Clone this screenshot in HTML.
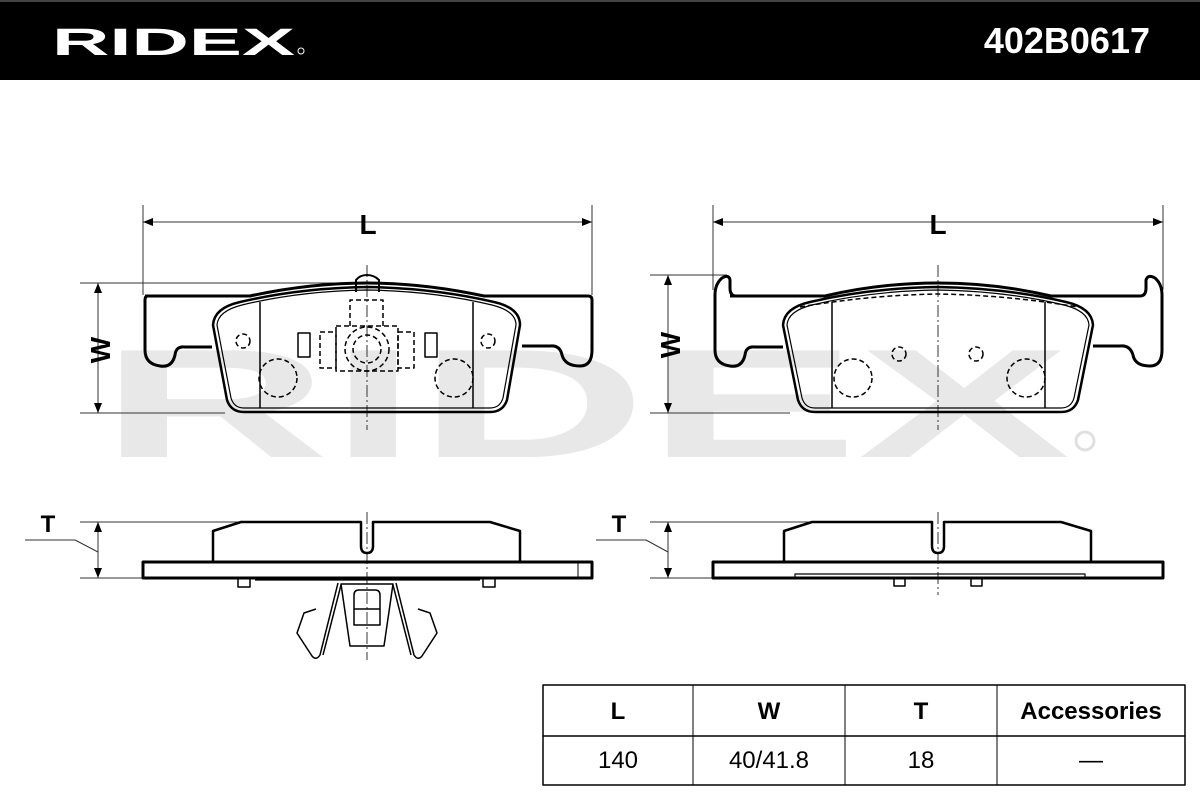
<!DOCTYPE html>
<html><head><meta charset="utf-8"><style>
html,body{margin:0;padding:0;background:#fff}
svg{display:block}
text{font-family:"Liberation Sans",sans-serif}
</style></head><body>
<svg width="1200" height="800" viewBox="0 0 1200 800" xmlns="http://www.w3.org/2000/svg">
<rect x="0" y="0" width="1200" height="80" fill="#000"/>
<rect x="0" y="0" width="1200" height="2" fill="#444"/>
<text x="52" y="55" font-size="38" font-weight="bold" fill="#fff" textLength="243" lengthAdjust="spacingAndGlyphs">RIDEX</text>
<circle cx="301" cy="51" r="3" fill="none" stroke="#fff" stroke-width="1"/>
<text x="1150" y="53" font-size="36" font-weight="bold" fill="#fff" text-anchor="end">402B0617</text>

<!-- watermark -->
<text x="100" y="457" font-size="155" font-weight="bold" fill="#e8e8e8" textLength="970" lengthAdjust="spacingAndGlyphs">RIDEX</text>
<circle cx="1085" cy="441" r="9" fill="none" stroke="#e0e0e0" stroke-width="3"/>

<g fill="none" stroke="#000" stroke-linejoin="round">
<!-- LEFT TOP VIEW dims -->
<g stroke-width="1" stroke="#333">
<line x1="143" y1="205" x2="143" y2="295"/><line x1="592" y1="205" x2="592" y2="295"/>
<line x1="143" y1="222" x2="592" y2="222"/>
<line x1="80" y1="283" x2="365" y2="283"/><line x1="80" y1="413" x2="225" y2="413"/>
<line x1="98" y1="283" x2="98" y2="413"/>
<line x1="367" y1="265" x2="367" y2="430" stroke-dasharray="12 3 2 3"/>
</g>
<g fill="#000" stroke="none">
<path d="M143 222 l10 -4 v8z"/><path d="M592 222 l-10 -4 v8z"/>
<path d="M98 283 l-4 10 h8z"/><path d="M98 413 l-4 -10 h8z"/>
</g>
<!-- backplate -->
<path stroke-width="3" d="M145 296 H250 Q310 283 367 283 Q424 283 484 296 H588 Q592 296 592 300 V350 Q592 366 580 366 Q565 366 562 355 Q560 345 550 346 H522 M212 347 H185 Q176 346 175 355 Q172 368 160 366 Q145 364 145 350 V300 Q145 296 148 296"/>
<!-- friction pad -->
<path stroke-width="2.5" d="M213 325 Q214 308 240 302 Q300 288 367 287 Q434 288 494 302 Q520 308 520 325 L507 400 Q503 412 490 412 H244 Q231 412 227 400 Z"/>
<path stroke-width="1.2" d="M217 325 Q218 311 242 305 Q300 291 367 290 Q434 291 492 305 Q516 311 516 325 L503 398 Q500 408 490 408 H244 Q234 408 231 398 Z"/>
<line x1="260" y1="302" x2="260" y2="408" stroke-width="1.5"/>
<line x1="473" y1="302" x2="473" y2="408" stroke-width="1.5"/>
<path stroke-width="2" d="M356 292 V280 Q360 275 367 275 Q374 275 379 280 V292"/>
<g stroke-width="1.5" stroke-dasharray="5 3">
<circle cx="243" cy="341" r="7"/><circle cx="488" cy="341" r="7"/>
<circle cx="278" cy="378" r="19"/><circle cx="454" cy="378" r="19"/>
<circle cx="367" cy="349" r="22"/><circle cx="367" cy="349" r="14"/>
<rect x="336" y="326" width="62" height="45"/>
<path d="M350 326 V300 H383 V326"/>
<path d="M320 332 H336 V368 H320Z"/><path d="M398 332 H414 V368 H398Z"/>
</g>
<g stroke-width="1.5">
<rect x="298" y="333" width="12" height="24"/><rect x="425" y="333" width="12" height="24"/>
</g>

<!-- RIGHT TOP VIEW -->
<g stroke-width="1" stroke="#333">
<line x1="713" y1="205" x2="713" y2="290"/><line x1="1163" y1="205" x2="1163" y2="290"/>
<line x1="713" y1="222" x2="1163" y2="222"/>
<line x1="650" y1="275" x2="727" y2="275"/><line x1="650" y1="413" x2="790" y2="413"/>
<line x1="668" y1="275" x2="668" y2="413"/>
<line x1="938" y1="265" x2="938" y2="430" stroke-dasharray="12 3 2 3"/>
</g>
<g fill="#000" stroke="none">
<path d="M713 222 l10 -4 v8z"/><path d="M1163 222 l-10 -4 v8z"/>
<path d="M668 275 l-4 10 h8z"/><path d="M668 413 l-4 -10 h8z"/>
</g>
<path stroke-width="3" d="M730 296 H825 Q880 283 938 283 Q996 283 1051 296 H1140 Q1146 296 1146 288 V280 Q1148 274 1155 278 Q1162 284 1162 295 V350 Q1162 366 1150 366 Q1135 366 1133 355 Q1130 345 1120 346 H1093 M783 347 H755 Q746 346 745 355 Q742 368 730 366 Q715 364 715 350 V295 Q715 284 722 278 Q729 274 730 280 V288 Q730 296 736 296"/>
<path stroke-width="2.5" d="M783 325 Q784 308 810 302 Q870 288 938 287 Q1006 288 1066 302 Q1092 308 1093 325 L1078 400 Q1074 412 1061 412 H815 Q802 412 798 400 Z"/>
<path stroke-width="1.2" d="M787 325 Q788 311 812 305 Q870 291 938 290 Q1006 291 1064 305 Q1088 311 1089 325 L1074 398 Q1071 408 1061 408 H815 Q805 408 802 398 Z"/>
<line x1="832" y1="302" x2="832" y2="408" stroke-width="1.5"/>
<line x1="1045" y1="302" x2="1045" y2="408" stroke-width="1.5"/>
<g stroke-width="1.5" stroke-dasharray="5 3">
<path d="M800 307 Q870 295 938 294 Q1006 295 1078 307"/>
<circle cx="899" cy="354" r="7"/><circle cx="976" cy="354" r="7"/>
<circle cx="853" cy="378" r="19"/><circle cx="1026" cy="378" r="19"/>
</g>

<!-- LEFT SIDE VIEW -->
<g stroke-width="1" stroke="#333">
<line x1="80" y1="522" x2="255" y2="522"/><line x1="80" y1="578" x2="145" y2="578"/>
<line x1="98" y1="522" x2="98" y2="578"/>
<polyline points="25,540 75,540 98,552"/>
<line x1="367" y1="512" x2="367" y2="660" stroke-dasharray="12 3 2 3"/>
</g>
<g fill="#000" stroke="none"><path d="M98 522 l-4 10 h8z"/><path d="M98 578 l-4 -10 h8z"/></g>
<rect x="143" y="562" width="449" height="16" stroke-width="3"/>
<line x1="578" y1="562" x2="578" y2="578" stroke-width="1"/>
<path stroke-width="2.5" d="M213 562 V531 L241 522 H361 V546 Q361 553 367 553 Q373 553 373 546 V522 H490 L520 531 V562"/>
<rect x="238" y="578" width="12" height="9" stroke-width="1.5"/>
<rect x="483" y="578" width="12" height="9" stroke-width="1.5"/>
<line x1="255" y1="580" x2="480" y2="580" stroke-width="1.2"/>
<g stroke-width="1.5">
<path d="M341 584 L350 646 H384 L393 584 Z"/>
<path d="M354 625 V595 Q354 590 359 590 H375 Q380 590 380 595 V625 Z"/>
<line x1="354" y1="609" x2="380" y2="609"/>
<path d="M338 583 L320 655 Q316 661 312 656 L297 633 L304 613 L316 609"/>
<path d="M341 585 L323 655"/>
<path d="M396 583 L414 655 Q418 661 422 656 L437 633 L430 613 L418 609"/>
<path d="M393 585 L411 655"/>
</g>

<!-- RIGHT SIDE VIEW -->
<g stroke-width="1" stroke="#333">
<line x1="650" y1="522" x2="826" y2="522"/><line x1="650" y1="578" x2="715" y2="578"/>
<line x1="668" y1="522" x2="668" y2="578"/>
<polyline points="596,540 646,540 668,552"/>
<line x1="938" y1="512" x2="938" y2="595" stroke-dasharray="12 3 2 3"/>
</g>
<g fill="#000" stroke="none"><path d="M668 522 l-4 10 h8z"/><path d="M668 578 l-4 -10 h8z"/></g>
<rect x="713" y="562" width="450" height="16" stroke-width="3"/>
<path stroke-width="2.5" d="M784 562 V531 L812 522 H932 V546 Q932 553 938 553 Q944 553 944 546 V522 H1061 L1091 531 V562"/>
<rect x="795" y="574" width="290" height="4" stroke-width="1.2"/>
<rect x="894" y="578" width="11" height="8" stroke-width="1.5"/>
<rect x="971" y="578" width="11" height="8" stroke-width="1.5"/>

<!-- table -->
<rect x="543" y="685" width="642" height="100" stroke-width="1.5"/>
<line x1="543" y1="736" x2="1185" y2="736" stroke-width="1.5"/>
<line x1="693" y1="685" x2="693" y2="785" stroke-width="1"/>
<line x1="845" y1="685" x2="845" y2="785" stroke-width="1"/>
<line x1="997" y1="685" x2="997" y2="785" stroke-width="1"/>
</g>

<g font-size="28" font-weight="bold" fill="#000" text-anchor="middle">
<text x="368" y="234">L</text><text x="938" y="234">L</text>
<text x="48" y="532" font-size="24">T</text><text x="619" y="532" font-size="24">T</text>
<text transform="translate(110,350) rotate(-90)">W</text>
<text transform="translate(680,345) rotate(-90)">W</text>
</g>
<g font-size="24" fill="#000" text-anchor="middle">
<g font-weight="bold">
<text x="618" y="719">L</text><text x="769" y="719">W</text><text x="921" y="719">T</text><text x="1091" y="719">Accessories</text>
</g>
<text x="618" y="768">140</text><text x="769" y="768">40/41.8</text><text x="921" y="768">18</text><text x="1091" y="768">—</text>
</g>
</svg>
</body></html>
